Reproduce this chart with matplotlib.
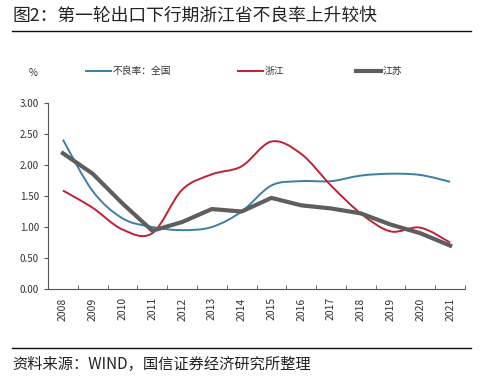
import numpy as np
import matplotlib.pyplot as plt
from matplotlib.path import Path
from matplotlib.patches import PathPatch
from matplotlib.lines import Line2D

plt.rcParams["font.family"] = ["Noto Sans CJK SC", "DejaVu Sans"]

years = ["2008", "2009", "2010", "2011", "2012", "2013", "2014",
         "2015", "2016", "2017", "2018", "2019", "2020", "2021"]
npl_national = [2.41, 1.58, 1.14, 1.00, 0.95, 1.00, 1.25,
                1.67, 1.74, 1.74, 1.83, 1.86, 1.84, 1.73]
npl_zhejiang = [1.59, 1.31, 0.96, 0.90, 1.60, 1.85, 1.98,
                2.38, 2.18, 1.67, 1.22, 0.93, 0.99, 0.75]
npl_jiangsu = [2.19, 1.86, 1.38, 0.94, 1.08, 1.29, 1.25,
               1.47, 1.35, 1.30, 1.22, 1.04, 0.90, 0.70]

C_BLUE = "#3b7ea6"
C_RED = "#c21f32"
C_GRAY = "#5e5e5e"


def smooth_path(xs, ys):
    # Excel-style smoothed line: Catmull-Rom segments as cubic Bezier
    pts = np.column_stack([xs, ys]).astype(float)
    verts = [pts[0]]
    codes = [Path.MOVETO]
    n = len(pts)
    for i in range(n - 1):
        p0 = pts[max(i - 1, 0)]
        p1 = pts[i]
        p2 = pts[i + 1]
        p3 = pts[min(i + 2, n - 1)]
        c1 = p1 + (p2 - p0) / 6.0
        c2 = p2 - (p3 - p1) / 6.0
        verts += [c1, c2, p2]
        codes += [Path.CURVE4] * 3
    return Path(verts, codes)


fig = plt.figure(figsize=(4.9, 3.79), dpi=100)
ax = fig.add_axes([0.098, 0.2375, 0.851, 0.4905])

x = np.arange(len(years))
ax.add_patch(PathPatch(smooth_path(x, npl_national), fill=False,
                       edgecolor=C_BLUE, linewidth=1.4, zorder=3))
ax.add_patch(PathPatch(smooth_path(x, npl_zhejiang), fill=False,
                       edgecolor=C_RED, linewidth=1.4, zorder=4))
ax.plot(x, npl_jiangsu, color=C_GRAY, linewidth=3.0,
        solid_joinstyle="round", zorder=5)

ax.set_xlim(-0.5, len(years) - 0.5)
ax.set_ylim(0, 3.0)
ax.set_yticks(np.arange(0, 3.01, 0.5))
ax.set_yticklabels([f"{v:.2f}" for v in np.arange(0, 3.01, 0.5)])
ax.set_xticks(x)
ax.set_xticklabels(years, rotation=90)
ax.set_xticks(np.arange(-0.5, len(years)), minor=True)
ax.tick_params(axis="x", which="major", length=0, pad=6,
               labelsize=7.5, colors="#333333")
ax.tick_params(axis="x", which="minor", length=3, direction="in",
               color="#555555")
ax.tick_params(axis="y", length=3, direction="out", labelsize=7,
               colors="#333333", color="#555555")
for s in ["top", "right"]:
    ax.spines[s].set_visible(False)
for s in ["left", "bottom"]:
    ax.spines[s].set_color("#555555")
    ax.spines[s].set_linewidth(0.8)

# unit label and legend
fig.text(33 / 490, 1 - 73 / 379, "%", fontsize=7, color="#333333",
         ha="center", va="center")
items = [(86, C_BLUE, 1.4, "不良率：全国"),
         (238, C_RED, 1.4, "浙江"),
         (356, C_GRAY, 3.0, "江苏")]
ly = 1 - 71 / 379
for x0, col, lw, lbl in items:
    fig.add_artist(Line2D([x0 / 490, (x0 + 25) / 490], [ly, ly],
                          color=col, linewidth=lw, transform=fig.transFigure))
    fig.text((x0 + 27) / 490, ly, lbl, fontsize=7, color="#333333",
             ha="left", va="center")

# title and source
fig.text(12 / 490, 1 - 16 / 379, "图2：第一轮出口下行期浙江省不良率上升较快",
         fontsize=12.8, color="#222222", ha="left", va="center")
fig.add_artist(Line2D([12 / 490, 471 / 490], [1 - 31 / 379, 1 - 31 / 379],
                      color="#111111", linewidth=1.0,
                      transform=fig.transFigure))
fig.add_artist(Line2D([12 / 490, 471 / 490], [1 - 348 / 379, 1 - 348 / 379],
                      color="#111111", linewidth=1.0,
                      transform=fig.transFigure))
fig.text(12 / 490, 1 - 364 / 379, "资料来源：WIND，国信证券经济研究所整理",
         fontsize=11, color="#222222", ha="left", va="center")

fig.savefig("out.png", dpi=100)
